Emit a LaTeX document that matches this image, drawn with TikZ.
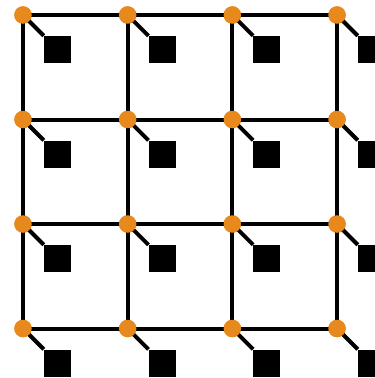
\documentclass[tikz,border=0pt]{standalone}
\definecolor{dotorange}{RGB}{232,137,30}
\begin{document}
\begin{tikzpicture}[x=1pt,y=-1pt,
  dot/.style={circle,fill=dotorange,draw=none,minimum size=17.5pt,inner sep=0pt},
  blk/.style={rectangle,fill=black,draw=none,minimum size=27pt,inner sep=0pt},
  wire/.style={line width=4pt,black}]
\useasboundingbox (0,0) rectangle (375,378);
\clip (0,0) rectangle (375,378);
\foreach \i in {0,1,2,3}{
  \foreach \j in {0,1,2,3}{
    \node[dot] (c-\i-\j) at ({23+104.67*\i},{15+104.5*\j}) {};
    \node[blk] (s-\i-\j) at ({57.5+104.67*\i},{49.5+104.5*\j}) {};
  }
}
\foreach \i in {0,1,2,3}{
  \foreach \j in {0,1,2,3}{
    \draw[wire] (c-\i-\j.center) -- (s-\i-\j.north west);
  }
}
\foreach \i/\k in {0/1,1/2,2/3}{
  \foreach \j in {0,1,2,3}{
    \draw[wire] (c-\i-\j.center) -- (c-\k-\j.center);
    \draw[wire] (c-\j-\i.center) -- (c-\j-\k.center);
  }
}
\foreach \i in {0,1,2,3}{
  \foreach \j in {0,1,2,3}{
    \node[dot] at (c-\i-\j) {};
  }
}
\end{tikzpicture}
\end{document}
